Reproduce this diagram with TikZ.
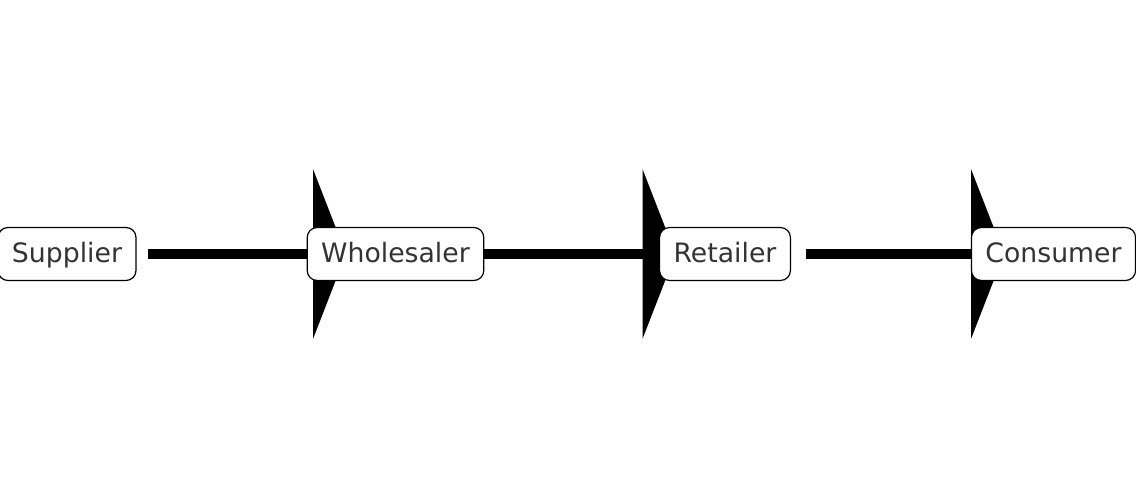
\documentclass[tikz,border=0pt]{standalone}
\usepackage{fontspec}
\setmainfont{DejaVu Sans}
\usepackage{tikz}
\usetikzlibrary{positioning,arrows.meta,calc}
\definecolor{inkgray}{HTML}{333333}
\pgfdeclarelayer{background}
\pgfsetlayers{background,main}

\begin{document}
\begin{tikzpicture}[x=1pt, y=1pt,
        stageBox/.style={draw=black, fill=white, rounded corners=10pt, line width=1.2pt, text=inkgray, font=\fontsize{26.7pt}{32pt}\selectfont, inner xsep=14pt, inner ysep=15.5pt, text height=19.5pt, text depth=2.5pt},
        flowArrow/.style={line width=10pt, draw=black, -{Triangle[length=33pt, width=170pt, line width=0pt]}}
    ]
        \useasboundingbox (0,-230) rectangle (1136,254);

        % Stages of the chain
        \node[stageBox] (supplier) at (67, 0) {Supplier};
        \node[stageBox] (wholesaler) at (395.5, 0) {Wholesaler};
        \node[stageBox] (retailer) at (725, 0) {Retailer};
        \node[stageBox] (consumer) at (1053.5, 0) {Consumer};

        % Flows, behind the boxes
        \begin{pgfonlayer}{background}
            \draw[flowArrow] ($(supplier.center)+(81,0)$) -- ($(wholesaler.center)+(-49.5,0)$);
            \draw[flowArrow] ($(wholesaler.center)+(81,0)$) -- ($(retailer.center)+(-49.5,0)$);
            \draw[flowArrow] ($(retailer.center)+(81,0)$) -- ($(consumer.center)+(-49.5,0)$);
        \end{pgfonlayer}
    \end{tikzpicture}
\end{document}
